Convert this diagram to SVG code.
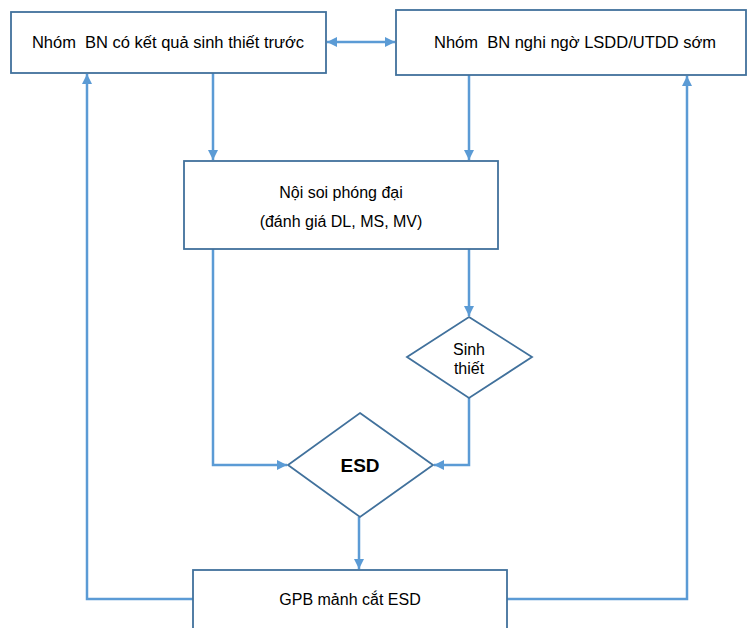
<svg xmlns="http://www.w3.org/2000/svg" width="748" height="628" viewBox="0 0 748 628">
<style>
.box{fill:#fff;stroke:#41719C;stroke-width:1.8}
.con{fill:none;stroke:#5B9BD5;stroke-width:2.5}
text{font-family:"Liberation Sans",Arial,sans-serif;font-size:16px;fill:#000;text-anchor:middle;white-space:pre}
.t{font-size:16.5px}
.b{font-weight:bold;font-size:19px}
</style>
<defs>
<marker id="ah" viewBox="0 0 10 10" refX="10" refY="5" markerWidth="4.4" markerHeight="4" markerUnits="strokeWidth" orient="auto-start-reverse">
<path d="M0,0L10,5L0,10z" fill="#5B9BD5"/>
</marker>
</defs>
<rect width="748" height="628" fill="#fff"/>
<g id="connectors">
<path class="con" d="M327,42H395" marker-start="url(#ah)" marker-end="url(#ah)"/>
<path class="con" d="M213,73V160" marker-end="url(#ah)"/>
<path class="con" d="M469,75V160" marker-end="url(#ah)"/>
<path class="con" d="M469,249V316" marker-end="url(#ah)"/>
<path class="con" d="M213,249V465H287" marker-end="url(#ah)"/>
<path class="con" d="M469,398V465H434" marker-end="url(#ah)"/>
<path class="con" d="M359,517V569" marker-end="url(#ah)"/>
<path class="con" d="M193,599H87V74" marker-end="url(#ah)"/>
<path class="con" d="M507,599H687V76" marker-end="url(#ah)"/>
</g>
<g id="n1">
<rect class="box" x="11" y="12" width="315" height="61"/>
<text class="t" x="168" y="48">Nhóm  BN có kết quả sinh thiết trước</text>
</g>
<g id="n2">
<rect class="box" x="396" y="10" width="350" height="65"/>
<text class="t" x="575" y="48">Nhóm  BN nghi ngờ LSDD/UTDD sớm</text>
</g>
<g id="n3">
<rect class="box" x="184" y="161" width="314" height="88"/>
<text x="341" y="198">Nội soi phóng đại</text>
<text x="341" y="227">(đánh giá DL, MS, MV)</text>
</g>
<g id="n4">
<path class="box" d="M469,317L532,357L469,398L407,357z"/>
<text x="469" y="355">Sinh</text>
<text x="469" y="374">thiết</text>
</g>
<g id="n5">
<path class="box" d="M360,413L433,465L360,517L288,465z"/>
<text class="b" x="360" y="472">ESD</text>
</g>
<g id="n6">
<rect class="box" x="193" y="570" width="314" height="70"/>
<text x="350" y="605">GPB mảnh cắt ESD</text>
</g>
</svg>
